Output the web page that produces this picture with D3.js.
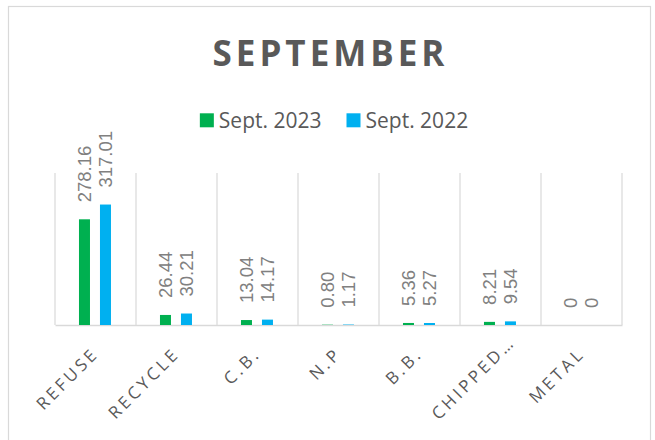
<!DOCTYPE html>
<html>
<head>
<meta charset="utf-8">
<script src="https://cdn.jsdelivr.net/npm/d3@7/dist/d3.min.js"></script>
<style>
  html, body { margin: 0; padding: 0; background: #fff; }
  svg { display: block; }
</style>
</head>
<body>
<svg id="chart" width="655" height="440"></svg>
<script>
// ---- data ----
const categories = ["REFUSE", "RECYCLE", "C.B.", "N.P", "B.B.", "CHIPPED…", "METAL"];
const seriesNames = ["Sept. 2023", "Sept. 2022"];
const sept2023 = [278.16, 26.44, 13.04, 0.80, 5.36, 8.21, 0];
const sept2022 = [317.01, 30.21, 14.17, 1.17, 5.27, 9.54, 0];
const seriesColors = ["#00b050", "#00b0f0"];
const titleText = "SEPTEMBER";
const yDomain = [0, 400];

const seriesValues = [sept2023, sept2022];

const svg = d3.select("#chart");

// outer border
svg.append("rect")
  .attr("x", 8.5).attr("y", 6.5)
  .attr("width", 642).attr("height", 460)
  .attr("fill", "#fff")
  .attr("stroke", "#d9d9d9").attr("stroke-width", 1.2);

// plot area
const plot = { left: 55, right: 622, top: 173, bottom: 325 };

const x0 = d3.scaleBand().domain(categories).range([plot.left, plot.right]).padding(0);
const bw = x0.bandwidth();
const x1 = d3.scaleBand().domain(seriesNames)
  .range([bw * 0.296, bw * 0.691])
  .paddingInner(0.476).paddingOuter(0);
const y = d3.scaleLinear().domain(yDomain).range([plot.bottom, plot.top]);

// vertical gridlines at category boundaries
const bounds = categories.map(c => x0(c)).concat([plot.right]);
svg.append("g").selectAll("line").data(bounds).join("line")
  .attr("x1", d => d).attr("x2", d => d)
  .attr("y1", plot.top).attr("y2", plot.bottom)
  .attr("stroke", "#d9d9d9").attr("stroke-width", 1.2);

// baseline axis
const xAxis = d3.axisBottom(x0).tickSize(0).tickFormat("");
const gx = svg.append("g").attr("transform", `translate(0,${plot.bottom})`).call(xAxis);
gx.select(".domain").attr("stroke", "#d9d9d9").attr("stroke-width", 1.6);

// bars
const rows = categories.map((c, i) => ({ cat: c, vals: seriesNames.map((s, j) => ({ s, j, v: seriesValues[j][i] })) }));
const gCat = svg.append("g").selectAll("g").data(rows).join("g")
  .attr("transform", d => `translate(${x0(d.cat)},0)`);

gCat.selectAll("rect").data(d => d.vals).join("rect")
  .attr("x", d => x1(d.s))
  .attr("width", x1.bandwidth())
  .attr("y", d => y(d.v))
  .attr("height", d => y(0) - y(d.v))
  .attr("fill", d => seriesColors[d.j]);

// data labels (rotated)
const fmt = v => v === 0 ? "0" : v.toFixed(2);
gCat.selectAll("text.lbl").data(d => d.vals).join("text")
  .attr("class", "lbl")
  .attr("transform", d => `translate(${x1(d.s) + x1.bandwidth() / 2},${y(d.v) - 17}) rotate(-90)`)
  .attr("dy", "0.36em")
  .attr("text-anchor", "start")
  .attr("font-family", "'Liberation Sans', Arial, sans-serif")
  .attr("font-size", 18.5)
  .attr("fill", "#808080")
  .text(d => fmt(d.v));

// category labels (rotated -45)
const catLS = 3.3;
const catFS = 17;
const gLab = svg.append("g");
categories.forEach(c => {
  const cx = x0(c) + bw / 2 + 2;
  const cy = plot.bottom + 32;
  const g = gLab.append("g").attr("transform", `translate(${cx},${cy}) rotate(-45)`);
  const ell = c.endsWith("…");
  const base = ell ? c.slice(0, -1) : c;
  g.append("text")
    .attr("x", catLS)
    .attr("text-anchor", "end")
    .attr("font-family", "'Open Sans', sans-serif")
    .attr("font-size", catFS)
    .attr("letter-spacing", catLS)
    .attr("fill", "#595959")
    .text(base);
  if (ell) {
    g.append("text")
      .attr("x", catLS)
      .attr("text-anchor", "start")
      .attr("font-family", "'Open Sans', sans-serif")
      .attr("font-size", catFS)
      .attr("fill", "#595959")
      .text("…");
  }
});

// title
svg.append("text")
  .attr("x", 328.5 + 2).attr("y", 66)
  .attr("text-anchor", "middle")
  .attr("font-family", "'Open Sans', sans-serif")
  .attr("font-weight", "bold")
  .attr("font-size", 35)
  .attr("letter-spacing", 4)
  .attr("fill", "#595959")
  .text(titleText);

// legend
const legend = svg.append("g");
const items = seriesNames.map((s, i) => {
  const g = legend.append("g");
  g.append("rect").attr("x", 0).attr("y", -14.7).attr("width", 14).attr("height", 14).attr("fill", seriesColors[i]);
  const t = g.append("text").attr("x", 19).attr("y", 0)
    .attr("font-family", "'Open Sans', sans-serif")
    .attr("font-size", 21)
    .attr("fill", "#595959")
    .text(s);
  return { g, w: 19 + t.node().getComputedTextLength() };
});
const gap = 25;
const total = items.reduce((a, b) => a + b.w, 0) + gap * (items.length - 1);
let lx = 334 - total / 2;
items.forEach(it => { it.g.attr("transform", `translate(${lx},128)`); lx += it.w + gap; });
</script>
</body>
</html>
